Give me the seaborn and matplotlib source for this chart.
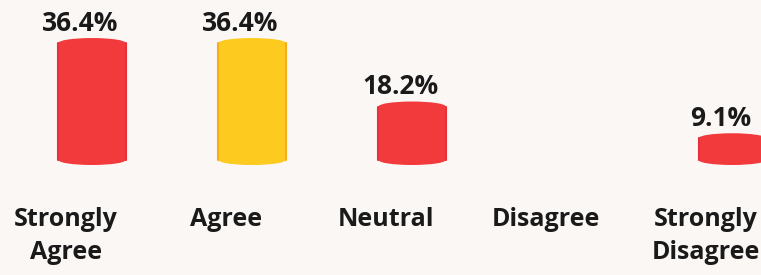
import numpy as np
import pandas as pd
import matplotlib
matplotlib.use("Agg")
import matplotlib.pyplot as plt
import matplotlib.transforms as mtransforms
from matplotlib.patches import Ellipse
import seaborn as sns

# ================= DATA =================
CATEGORIES = ["Strongly\nAgree", "Agree", "Neutral", "Disagree", "Strongly\nDisagree"]
PERCENTS = [36.4, 36.4, 18.2, 0.0, 9.1]
BAR_COLORS = ["#F23A3C", "#FDCB1F", "#F23A3C", "#F23A3C", "#F23A3C"]
EDGE_COLORS = ["#E6303A", "#F4AE18", "#E6303A", "#E6303A", "#E6303A"]
# ========================================

BG = "#FBF7F5"
sns.set_theme(style="white")
plt.rcParams["font.family"] = ["Open Sans", "DejaVu Sans"]

df = pd.DataFrame({"category": CATEGORIES, "percent": PERCENTS})

fig = plt.figure(figsize=(7.61, 2.75), dpi=100, facecolor=BG)
ax = fig.add_axes([0, 0.4, 1, 0.6])
ax.set_facecolor(BG)

sns.barplot(data=df, x="category", y="percent", hue="category",
            palette=BAR_COLORS, width=0.42, legend=False, ax=ax,
            saturation=1, linewidth=0)

ax.set_xlim(-0.575, 4.18)
ax.set_ylim(0, 47.3)

# cylinder caps: ellipses at the top and bottom of each bar
cap_h = 47.3 / 165 * 10
bars = list(ax.patches)
for patch, val, col, ec in zip(bars, PERCENTS, BAR_COLORS, EDGE_COLORS):
    if val <= 0:
        continue
    x0, w = patch.get_x(), patch.get_width()
    cx = x0 + w / 2
    patch.set_y(cap_h / 2)
    patch.set_height(val - cap_h)
    ax.add_patch(Ellipse((cx, cap_h / 2), w, cap_h, facecolor=col, edgecolor="none"))
    ax.add_patch(Ellipse((cx, val - cap_h / 2), w, cap_h, facecolor=col, edgecolor="none"))
    # slightly darker sides
    ax.plot([x0, x0], [cap_h / 2, val - cap_h / 2], color=ec, lw=1.5)
    ax.plot([x0 + w, x0 + w], [cap_h / 2, val - cap_h / 2], color=ec, lw=1.5)

# value labels, shifted a little left like the 3D rendering
shift = mtransforms.ScaledTranslation(-12 / 100, 0, fig.dpi_scale_trans)
for patch, val in zip(bars, PERCENTS):
    if val <= 0:
        continue
    cx = patch.get_x() + patch.get_width() / 2
    ax.text(cx, val + 0.3, f"{val:.1f}%", ha="center", va="bottom",
            fontsize=19, fontweight="bold", color="#1a1a1a",
            transform=ax.transData + shift)

ax.set_xlabel("")
ax.set_ylabel("")
ax.set_yticks([])
ax.tick_params(axis="x", length=0, pad=30)
label_shift = mtransforms.ScaledTranslation(-26 / 100, 0, fig.dpi_scale_trans)
for lab in ax.get_xticklabels():
    lab.set_fontsize(18)
    lab.set_fontweight("bold")
    lab.set_color("#1a1a1a")
    lab.set_linespacing(1.45)
    lab.set_transform(lab.get_transform() + label_shift)
sns.despine(ax=ax, left=True, bottom=True)

fig.savefig("out.png", dpi=100, facecolor=BG)
